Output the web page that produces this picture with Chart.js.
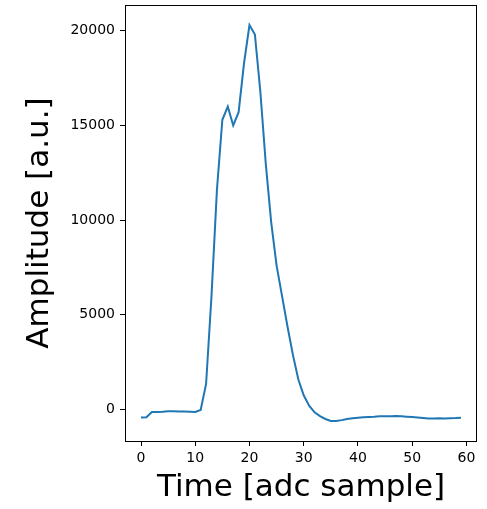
<!DOCTYPE html>
<html>
<head>
<meta charset="utf-8">
<script src="https://cdn.jsdelivr.net/npm/chart.js@4/dist/chart.umd.min.js"></script>
<style>
    html, body { margin: 0; padding: 0; background: #ffffff; }
    #wrap { width: 487px; height: 509px; }
</style>
</head>
<body>
<div id="wrap"><canvas id="pulse" width="487" height="509"></canvas></div>
<script>
// adc samples and measured amplitude
const sampleIndex = [
    0, 1, 2, 3, 4, 5, 6, 7, 8, 9,
    10, 11, 12, 13, 14, 15, 16, 17, 18, 19,
    20, 21, 22, 23, 24, 25, 26, 27, 28, 29,
    30, 31, 32, 33, 34, 35, 36, 37, 38, 39,
    40, 41, 42, 43, 44, 45, 46, 47, 48, 49,
    50, 51, 52, 53, 54, 55, 56, 57, 58, 59
];
const amplitude = [
    -420, -410, -130, -130, -120, -90, -90, -100, -110, -120,
    -130, -20, 1350, 6000, 11600, 15300, 16000, 15000, 15700, 18300,
    20300, 19800, 16800, 13000, 9900, 7600, 6000, 4400, 2900, 1600,
    750, 200, -150, -350, -500, -600, -610, -560, -500, -460,
    -430, -410, -390, -380, -360, -350, -350, -340, -360, -380,
    -400, -420, -450, -480, -480, -460, -470, -460, -450, -430
];
const xTicks = [0, 10, 20, 30, 40, 50, 60];
const yTicks = [0, 5000, 10000, 15000, 20000];

const FONT = "'DejaVu Sans', sans-serif";
const LINE_BLUE = '#1f77b4';

// matplotlib-style 5% margins
const xLo = -2.95, xHi = 61.95;
const yLo = -1662, yHi = 21362;

const framePlugin = {
    id: 'frame',
    afterDraw(chart) {
        const { ctx, chartArea: a } = chart;
        ctx.save();
        ctx.strokeStyle = '#000000';
        ctx.lineWidth = 1;
        ctx.strokeRect(Math.round(a.left) + 0.5, Math.round(a.top) + 0.5,
            Math.round(a.right - a.left) - 1, Math.round(a.bottom - a.top));
        ctx.restore();
    }
};

new Chart(document.getElementById('pulse'), {
    type: 'line',
    data: {
        datasets: [{
            data: sampleIndex.map((s, i) => ({ x: s, y: amplitude[i] })),
            borderColor: LINE_BLUE,
            borderWidth: 2,
            pointRadius: 0,
            tension: 0,
            fill: false
        }]
    },
    options: {
        responsive: false,
        animation: false,
        layout: { padding: { left: 0, right: 10, top: 5, bottom: 0 } },
        plugins: {
            legend: { display: false },
            tooltip: { enabled: false }
        },
        scales: {
            x: {
                type: 'linear',
                min: xLo,
                max: xHi,
                afterBuildTicks: (scale) => { scale.ticks = xTicks.map(v => ({ value: v })); },
                afterFit: (scale) => {
                    scale.height = 68;
                    scale.paddingLeft = 0;
                    scale.paddingRight = 0;
                },
                border: { display: false },
                grid: {
                    drawOnChartArea: false,
                    drawTicks: true,
                    tickLength: 5,
                    tickColor: '#000000',
                    tickWidth: 1
                },
                ticks: {
                    color: '#000000',
                    font: { family: FONT, size: 14 },
                    padding: 4,
                    maxRotation: 0,
                    callback: (v) => String(v)
                },
                title: {
                    display: true,
                    text: 'Time [adc sample]',
                    color: '#000000',
                    font: { family: FONT, size: 31 },
                    padding: { top: 0, bottom: 2 }
                }
            },
            y: {
                type: 'linear',
                min: yLo,
                max: yHi,
                afterBuildTicks: (scale) => { scale.ticks = yTicks.map(v => ({ value: v })); },
                afterFit: (scale) => {
                    scale.width = 125;
                    scale.paddingTop = 0;
                    scale.paddingBottom = 0;
                },
                border: { display: false },
                grid: {
                    drawOnChartArea: false,
                    drawTicks: true,
                    tickLength: 5,
                    tickColor: '#000000',
                    tickWidth: 1
                },
                ticks: {
                    color: '#000000',
                    font: { family: FONT, size: 14 },
                    padding: 5,
                    callback: (v) => String(v)
                },
                title: {
                    display: true,
                    text: 'Amplitude [a.u.]',
                    color: '#000000',
                    font: { family: FONT, size: 31 },
                    padding: { top: 21, bottom: 0 }
                }
            }
        }
    },
    plugins: [framePlugin]
});
</script>
</body>
</html>
